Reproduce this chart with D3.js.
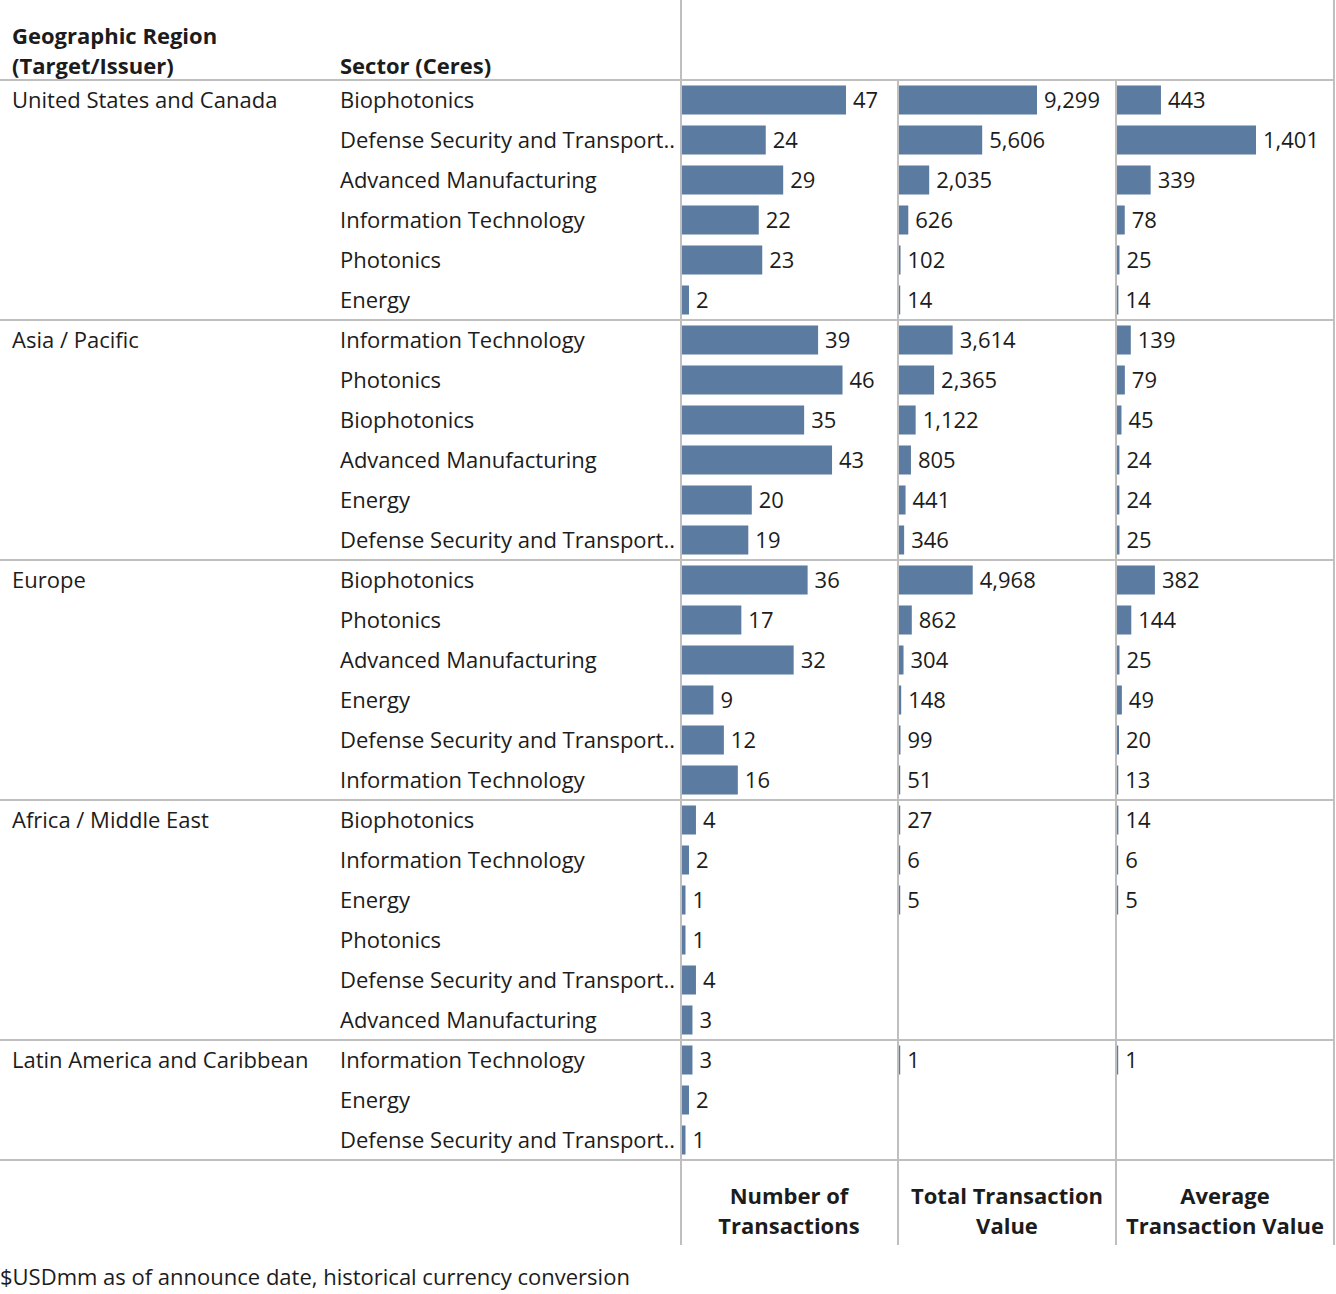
<!DOCTYPE html>
<html>
<head>
<meta charset="utf-8">
<script src="https://cdn.jsdelivr.net/npm/d3@7"></script>
<style>
  html, body { margin: 0; padding: 0; background: #fff; }
  svg { display: block; font-family: "Open Sans", "Noto Sans", sans-serif; }
</style>
</head>
<body>
<svg id="chart" width="1336" height="1294"></svg>
<script>
// ---- data ----
const regions = ["United States and Canada", "Asia / Pacific", "Europe", "Africa / Middle East", "Latin America and Caribbean"];
const regionSizes = [6, 6, 6, 6, 3];
const sectors = [
  "Biophotonics", "Defense Security and Transport..", "Advanced Manufacturing", "Information Technology", "Photonics", "Energy",
  "Information Technology", "Photonics", "Biophotonics", "Advanced Manufacturing", "Energy", "Defense Security and Transport..",
  "Biophotonics", "Photonics", "Advanced Manufacturing", "Energy", "Defense Security and Transport..", "Information Technology",
  "Biophotonics", "Information Technology", "Energy", "Photonics", "Defense Security and Transport..", "Advanced Manufacturing",
  "Information Technology", "Energy", "Defense Security and Transport.."
];
const numTransactions = [47, 24, 29, 22, 23, 2, 39, 46, 35, 43, 20, 19, 36, 17, 32, 9, 12, 16, 4, 2, 1, 1, 4, 3, 3, 2, 1];
const totalValue = [9299, 5606, 2035, 626, 102, 14, 3614, 2365, 1122, 805, 441, 346, 4968, 862, 304, 148, 99, 51, 27, 6, 5, null, null, null, 1, null, null];
const avgValue = [443, 1401, 339, 78, 25, 14, 139, 79, 45, 24, 24, 25, 382, 144, 25, 49, 20, 13, 14, 6, 5, null, null, null, 1, null, null];
const measureTitles = [["Number of", "Transactions"], ["Total Transaction", "Value"], ["Average", "Transaction Value"]];
const headerRegion = ["Geographic Region", "(Target/Issuer)"];
const headerSector = "Sector (Ceres)";
const footnote = "$USDmm as of announce date, historical currency conversion";

// ---- layout ----
const svg = d3.select("#chart");
const gridTop = 80, rowH = 40;
const nRows = sectors.length;
const gridBottom = gridTop + nRows * rowH;
const lineColor = "#bfbfbf";
const barColor = "#5b7ba1";
const textColor = "#1c1c1c";
const fs = 22;

const y = d3.scaleBand().domain(d3.range(nRows)).range([gridTop, gridBottom]).paddingInner(0.275).paddingOuter(0.1375);

const panels = [
  { x0: 682, values: numTransactions, scale: d3.scaleLinear().domain([0, 47]).range([0, 164]) },
  { x0: 899, values: totalValue, scale: d3.scaleLinear().domain([0, 9299]).range([0, 138]) },
  { x0: 1117, values: avgValue, scale: d3.scaleLinear().domain([0, 1401]).range([0, 139]) }
];
const fmt = d3.format(",");

// lines
const g = svg.append("g");
g.append("line").attr("x1", 0).attr("x2", 1335).attr("y1", gridTop).attr("y2", gridTop)
  .attr("stroke", lineColor).attr("stroke-width", 2);
let acc = 0;
const regionStarts = [];
regionSizes.forEach(s => { regionStarts.push(acc); acc += s; });
regionSizes.forEach((s, i) => {
  const yy = gridTop + (regionStarts[i] + s) * rowH;
  g.append("line").attr("x1", 0).attr("x2", 1335).attr("y1", yy).attr("y2", yy)
    .attr("stroke", lineColor).attr("stroke-width", 2);
});
[681, 898, 1116, 1334].forEach((x, i) => {
  g.append("line").attr("x1", x).attr("x2", x)
    .attr("y1", (i === 0 || i === 3) ? 0 : gridTop).attr("y2", 1245)
    .attr("stroke", lineColor).attr("stroke-width", 2);
});

// header text
const ht = svg.append("g").attr("font-weight", "bold").attr("font-size", fs).attr("fill", textColor);
ht.append("text").attr("x", 12).attr("y", 44).text(headerRegion[0]);
ht.append("text").attr("x", 12).attr("y", 74).text(headerRegion[1]);
ht.append("text").attr("x", 340).attr("y", 74).text(headerSector);

// region labels
svg.append("g").selectAll("text").data(regions).join("text")
  .attr("x", 12).attr("y", (d, i) => y(regionStarts[i]) + y.bandwidth() / 2)
  .attr("dy", "0.35em").attr("font-size", fs).attr("fill", textColor).text(d => d);

// sector labels
svg.append("g").selectAll("text").data(sectors).join("text")
  .attr("x", 340).attr("y", (d, i) => y(i) + y.bandwidth() / 2)
  .attr("dy", "0.35em").attr("font-size", fs).attr("fill", textColor).text(d => d);

// bars + labels
panels.forEach(p => {
  const data = p.values.map((v, i) => ({ v, i })).filter(d => d.v !== null);
  const pg = svg.append("g");
  pg.selectAll("rect").data(data).join("rect")
    .attr("x", p.x0).attr("y", d => y(d.i))
    .attr("width", d => Math.max(1.2, p.scale(d.v))).attr("height", y.bandwidth())
    .attr("fill", barColor);
  pg.selectAll("text").data(data).join("text")
    .attr("x", d => p.x0 + Math.max(1.2, p.scale(d.v)) + 7)
    .attr("y", d => y(d.i) + y.bandwidth() / 2).attr("dy", "0.35em")
    .attr("font-size", fs).attr("fill", textColor).text(d => fmt(d.v));
});

// bottom measure titles
const centers = [789, 1007, 1225];
measureTitles.forEach((t, i) => {
  t.forEach((line, j) => {
    svg.append("text").attr("x", centers[i]).attr("y", 1204 + j * 30)
      .attr("text-anchor", "middle").attr("font-weight", "bold").attr("font-size", fs)
      .attr("fill", textColor).text(line);
  });
});

// footnote
svg.append("text").attr("x", 0).attr("y", 1285).attr("font-size", fs).attr("fill", textColor).text(footnote);
</script>
</body>
</html>
